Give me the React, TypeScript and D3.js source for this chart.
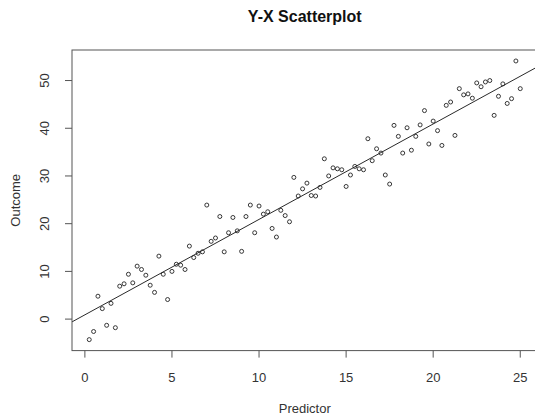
import React from 'react';
import * as d3 from 'd3';

// predictor values
const predictor = [
  0.25, 0.5, 0.75, 1.0, 1.25, 1.5, 1.75, 2.0, 2.25, 2.5,
  2.75, 3.0, 3.25, 3.5, 3.75, 4.0, 4.25, 4.5, 4.75, 5.0,
  5.25, 5.5, 5.75, 6.0, 6.25, 6.5, 6.75, 7.0, 7.25, 7.5,
  7.75, 8.0, 8.25, 8.5, 8.75, 9.0, 9.25, 9.5, 9.75, 10.0,
  10.25, 10.5, 10.75, 11.0, 11.25, 11.5, 11.75, 12.0, 12.25, 12.5,
  12.75, 13.0, 13.25, 13.5, 13.75, 14.0, 14.25, 14.5, 14.75, 15.0,
  15.25, 15.5, 15.75, 16.0, 16.25, 16.5, 16.75, 17.0, 17.25, 17.5,
  17.75, 18.0, 18.25, 18.5, 18.75, 19.0, 19.25, 19.5, 19.75, 20.0,
  20.25, 20.5, 20.75, 21.0, 21.25, 21.5, 21.75, 22.0, 22.25, 22.5,
  22.75, 23.0, 23.25, 23.5, 23.75, 24.0, 24.25, 24.5, 24.75, 25.0,
];

const outcome = [
  -4.3, -2.6, 4.8, 2.2, -1.3, 3.3, -1.8, 6.9, 7.4, 9.4,
  7.6, 11.1, 10.4, 9.2, 7.1, 5.6, 13.2, 9.4, 4.1, 10.0,
  11.5, 11.3, 10.4, 15.3, 12.9, 13.8, 14.1, 23.9, 16.3, 17.0,
  21.5, 14.1, 18.1, 21.3, 18.5, 14.2, 21.5, 23.9, 18.1, 23.7,
  22.0, 22.5, 19.0, 17.2, 22.8, 21.7, 20.4, 29.7, 25.8, 27.3,
  28.5, 25.9, 25.8, 27.6, 33.6, 30.0, 31.7, 31.5, 31.3, 27.8,
  30.2, 32.0, 31.5, 31.3, 37.8, 33.2, 35.7, 34.8, 30.2, 28.3,
  40.6, 38.3, 34.8, 40.1, 35.4, 38.3, 40.7, 43.7, 36.7, 41.5,
  39.5, 36.4, 44.8, 45.5, 38.5, 48.3, 47.0, 47.2, 46.3, 49.5,
  48.7, 49.7, 50.0, 42.7, 46.7, 49.3, 45.2, 46.2, 54.1, 48.3,
];

const xTicks = [0, 5, 10, 15, 20, 25];
const yTicks = [0, 10, 20, 30, 40, 50];

// fitted line y = a + b*x
const intercept = 0.9;
const slope = 2.0;

const width = 535;
const height = 416;
const plot = { left: 72, right: 537.5, top: 50, bottom: 350.6 };
const axisColor = '#555';
const textColor = '#333';

export default function App() {
  const xScale = d3.scaleLinear().domain([-0.74, 25.99]).range([plot.left, plot.right]);
  const yScale = d3.scaleLinear().domain([-6.6, 56.4]).range([plot.bottom, plot.top]);

  const [x0, x1] = xScale.domain();
  const fitLine = d3.line<number>()
    .x((d) => xScale(d))
    .y((d) => yScale(intercept + slope * d));

  return (
    <svg
      width={width}
      height={height}
      style={{ position: 'absolute', left: 0, top: 0, background: '#fff' }}
      fontFamily="'Liberation Sans', Arial, sans-serif"
    >
      <text x={(plot.left + plot.right) / 2} y={22} textAnchor="middle" fontWeight="bold" fontSize={16} fill="#111">
        Y-X Scatterplot
      </text>

      <defs>
        <clipPath id="plot-clip">
          <rect x={plot.left} y={plot.top} width={plot.right - plot.left} height={plot.bottom - plot.top} />
        </clipPath>
      </defs>

      <path d={fitLine([x0, x1]) || ''} stroke="#111" strokeWidth={0.9} fill="none" clipPath="url(#plot-clip)" />

      {predictor.map((d, i) => (
        <circle
          key={i}
          cx={xScale(d)}
          cy={yScale(outcome[i])}
          r={2}
          fill="none"
          stroke="#222"
          strokeWidth={0.9}
        />
      ))}

      <rect
        x={plot.left}
        y={plot.top}
        width={plot.right - plot.left}
        height={plot.bottom - plot.top}
        fill="none"
        stroke={axisColor}
        strokeWidth={1}
      />

      {xTicks.map((t) => (
        <g key={t} transform={`translate(${xScale(t)},0)`}>
          <line y1={plot.bottom} y2={plot.bottom + 7} stroke={axisColor} />
          <text y={382} textAnchor="middle" fontSize={13} fill={textColor}>{t}</text>
        </g>
      ))}

      {yTicks.map((t) => (
        <g key={t} transform={`translate(0,${yScale(t)})`}>
          <line x1={plot.left - 7} x2={plot.left} stroke={axisColor} />
          <text transform="translate(49,0) rotate(-90)" textAnchor="middle" fontSize={13} fill={textColor}>{t}</text>
        </g>
      ))}

      <text x={(plot.left + plot.right) / 2} y={413} textAnchor="middle" fontSize={13} fill={textColor}>
        Predictor
      </text>
      <text
        transform={`translate(20,${(plot.top + plot.bottom) / 2}) rotate(-90)`}
        textAnchor="middle"
        fontSize={13}
        fill={textColor}
      >
        Outcome
      </text>
    </svg>
  );
}
